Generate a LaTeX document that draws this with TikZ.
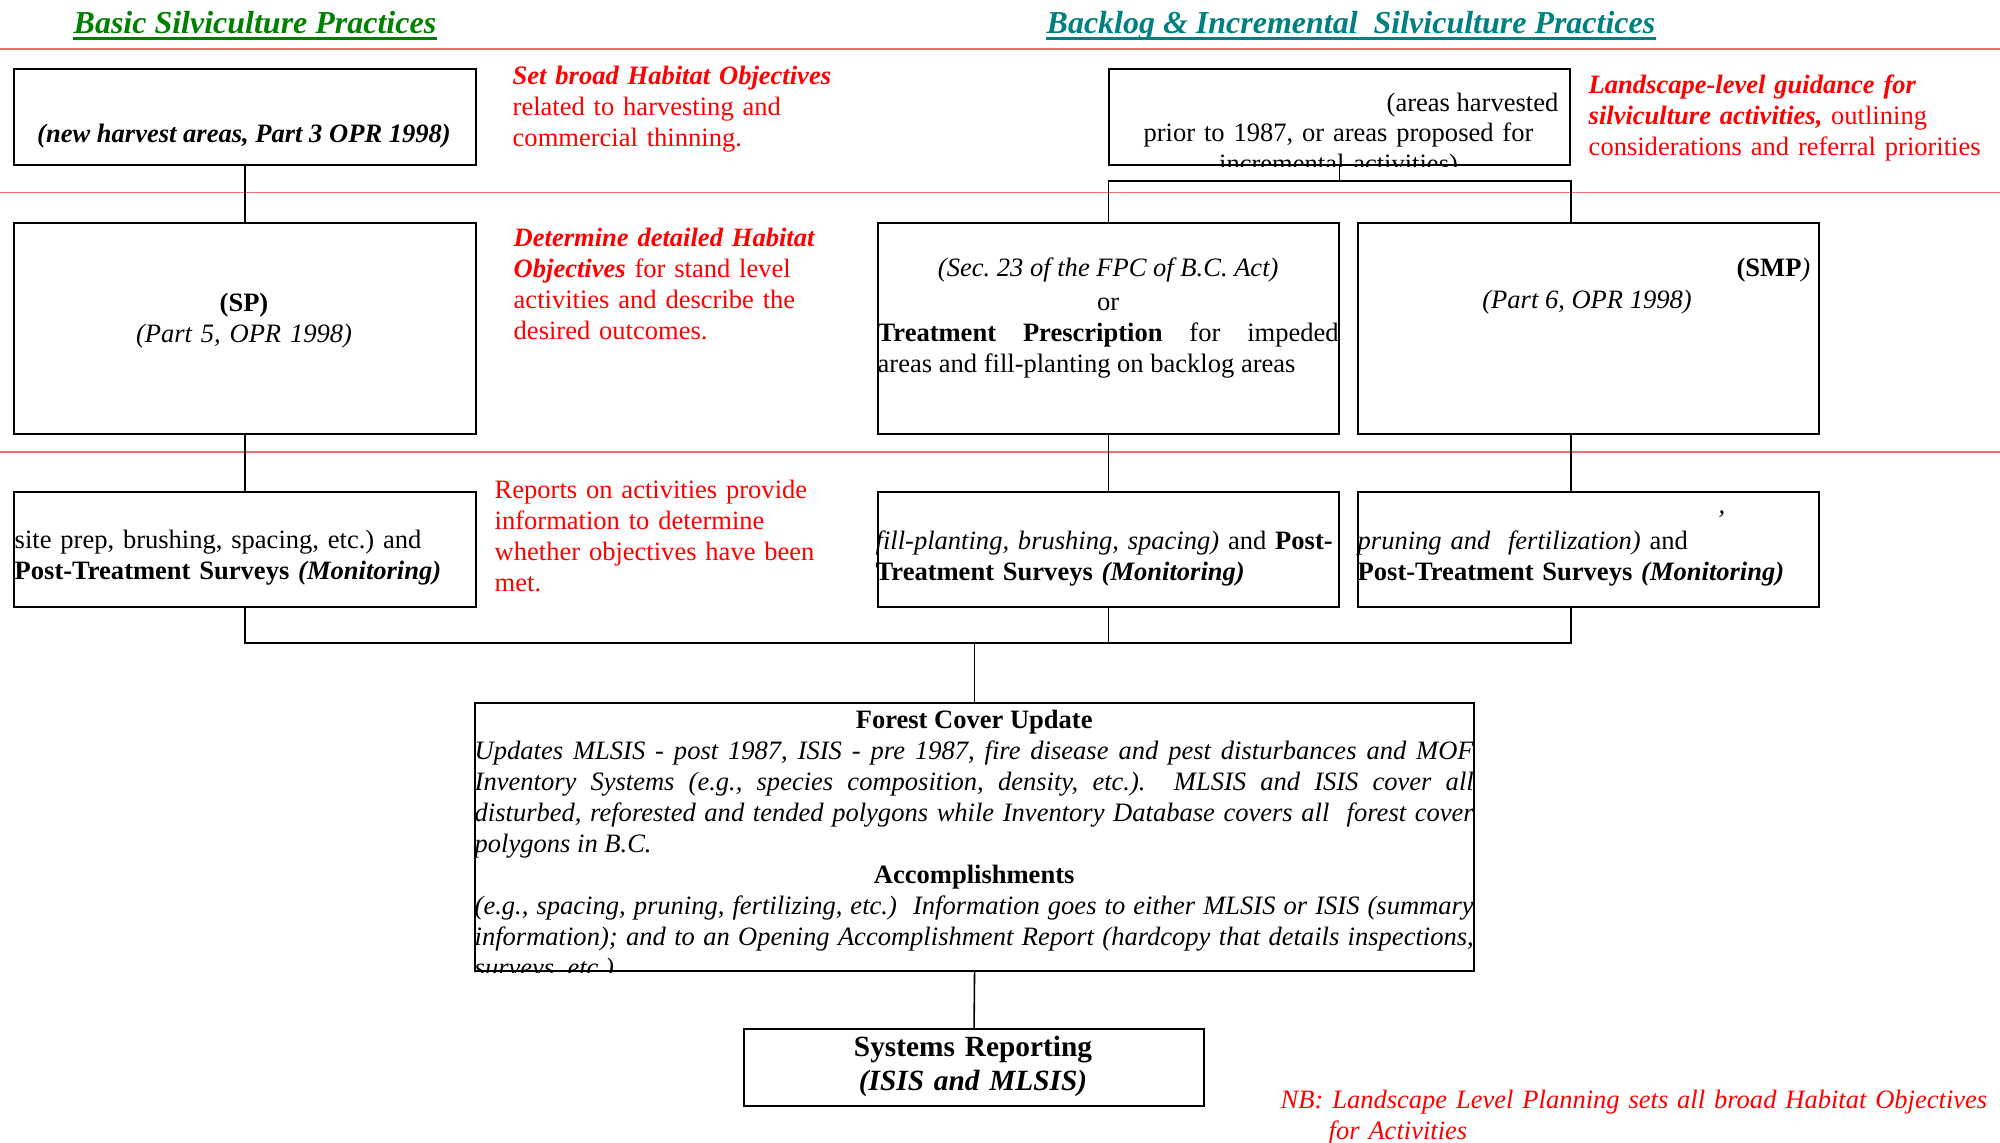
\documentclass[tikz,border=0pt]{standalone}
\usepackage{fontspec}
\setmainfont{Liberation Serif}
\usetikzlibrary{calc}
\definecolor{basicgreen}{RGB}{0,128,0}
\definecolor{backteal}{RGB}{0,128,128}
\definecolor{notered}{RGB}{255,0,0}
\definecolor{bandred}{RGB}{240,110,110}
\frenchspacing

\begin{document}
\begin{tikzpicture}[
	box/.style = {draw, line width=0.6pt, inner sep=0pt, anchor=north west},
	link/.style = {draw, line width=0.45pt},
	txt/.style = {inner sep=0pt, font=\fontsize{7.55}{8.85}\selectfont},
	note/.style = {txt, text=notered, align=left, anchor=base west},
	ttl/.style = {inner sep=0pt, anchor=base west, font=\fontsize{9.1}{10.5}\selectfont\bfseries\itshape},
	band/.style = {draw=bandred, line width=0.45pt}]
	\useasboundingbox (0,0) rectangle (20,-11.42);
	\node[ttl, text=basicgreen] (ttlA) at (0.73,-0.335) {Basic Silviculture Practices};
	\node[ttl, text=backteal] (ttlB) at (10.46,-0.335) {Backlog \& Incremental\ \ Silviculture Practices};
	\draw[basicgreen, line width=0.9pt] ([yshift=-0.05cm]ttlA.base west) -- ([yshift=-0.05cm]ttlA.base east);
	\draw[backteal, line width=0.9pt] ([yshift=-0.05cm]ttlB.base west) -- ([yshift=-0.05cm]ttlB.base east);
	\draw[band] (0,-0.49) -- (20,-0.49);
	\draw[band] (0,-1.925) -- (20,-1.925);
	\draw[band] (0,-4.52) -- (20,-4.52);

	\node[box, minimum width=4.62cm, minimum height=0.96cm] (harv) at (0.13,-0.68) {};
	\node[box, minimum width=4.61cm, minimum height=0.96cm] (backlog) at (11.08,-0.68) {};
	\node[box, minimum width=4.62cm, minimum height=2.11cm] (sp) at (0.13,-2.22) {};
	\node[box, minimum width=4.61cm, minimum height=2.11cm] (tp) at (8.77,-2.22) {};
	\node[box, minimum width=4.61cm, minimum height=2.11cm] (smp) at (13.57,-2.22) {};
	\node[box, minimum width=4.62cm, minimum height=1.15cm] (prep) at (0.13,-4.91) {};
	\node[box, minimum width=4.61cm, minimum height=1.15cm] (tpwork) at (8.77,-4.91) {};
	\node[box, minimum width=4.61cm, minimum height=1.15cm] (smpwork) at (13.57,-4.91) {};
	\node[box, minimum width=9.99cm, minimum height=2.68cm] (fc) at (4.74,-7.02) {};
	\node[box, minimum width=4.60cm, minimum height=0.77cm] (report) at (7.43,-10.28) {};

	\node[txt, anchor=base] (harvtxt) at (2.44,-1.42) {\textbf{\textit{(new harvest areas, Part 3 OPR 1998)}}};
	\node[txt, anchor=base east] (backtop) at (15.59,-1.11) {(areas harvested};
	\begin{scope}
		\clip (backlog.south west) rectangle (backlog.north east);
		\node[txt, text width=4.61cm, align=center, anchor=base] (backtxt) at (13.385,-1.415) {prior to 1987, or areas proposed for\\ incremental activities)};
	\end{scope}
	\node[txt, text width=4.5cm, align=center, anchor=base] (sptxt) at (2.44,-3.11) {\textbf{(SP)}\\ \textit{(Part 5, OPR 1998)}};
	\node[txt, text width=4.61cm, align=justify, anchor=base west] (tptxt) at (8.77,-2.76) {{\centering\textit{(Sec. 23 of the FPC of B.C. Act)}\par\vspace{1pt}or\par}\textbf{Treatment Prescription} for impeded\linebreak areas and fill-planting on backlog areas};
	\node[txt, anchor=base east] (smptop) at (18.11,-2.76) {\textbf{(SMP}\textit{)}};
	\node[txt, anchor=base] (smptxt) at (15.87,-3.08) {\textit{(Part 6, OPR 1998)}};
	\node[txt, text width=4.6cm, align=left, anchor=base west] (preptxt) at (0.14,-5.48) {site prep, brushing, spacing, etc.) and\\ \textbf{Post-Treatment Surveys \textit{(Monitoring)}}};
	\node[txt, text width=4.6cm, align=left, anchor=base west] (tpworktxt) at (8.75,-5.49) {\textit{fill-planting, brushing, spacing)} and \textbf{Post-}\\ \textbf{Treatment Surveys \textit{(Monitoring)}}};
	\node[txt, anchor=base] (smpcomma) at (17.22,-5.13) {\textit{,}};
	\node[txt, text width=4.6cm, align=left, anchor=base west] (smpworktxt) at (13.57,-5.49) {\textit{pruning and\ \ fertilization)} and\\ \textbf{Post-Treatment Surveys \textit{(Monitoring)}}};
	\begin{scope}
		\clip (fc.south west) rectangle (fc.north east);
		\node[txt, text width=9.99cm, align=justify, anchor=base west] (fctxt) at (4.74,-7.28) {{\centering\textbf{Forest Cover Update}\par}\textit{Updates MLSIS - post 1987, ISIS - pre 1987, fire disease and pest disturbances and MOF\linebreak Inventory Systems (e.g., species composition, density, etc.).\ \ MLSIS and ISIS cover all\linebreak disturbed, reforested and tended polygons while Inventory Database covers all\ \ forest cover\linebreak polygons in B.C.}\par{\centering\textbf{Accomplishments}\par}\textit{(e.g., spacing, pruning, fertilizing, etc.)\ \ Information goes to either MLSIS or ISIS (summary\linebreak information); and to an Opening Accomplishment Report (hardcopy that details inspections,\linebreak surveys, etc.)}};
	\end{scope}
	\node[txt, text width=4.6cm, align=center, anchor=base, font=\fontsize{8.35}{9.7}\selectfont] (reporttxt) at (9.73,-10.565) {\textbf{Systems Reporting}\\ \textbf{\textit{(ISIS and MLSIS)}}};

	\node[note, text width=4.5cm] (broad) at (5.12,-0.845) {\textbf{\textit{Set broad Habitat Objectives}}\\ related to harvesting and\\ commercial thinning.};
	\node[note, text width=4.2cm] (landscape) at (15.88,-0.93) {\textbf{\textit{Landscape-level guidance for}}\\ \textbf{\textit{silviculture activities,}} outlining\\ considerations and referral priorities};
	\node[note, text width=4.2cm] (detailed) at (5.13,-2.465) {\textbf{\textit{Determine detailed Habitat}}\\ \textbf{\textit{Objectives}} for stand level\\ activities and describe the\\ desired outcomes.};
	\node[note, text width=4.2cm] (reports) at (4.94,-4.98) {Reports on activities provide\\ information to determine\\ whether objectives have been\\ met.};
	\node[note, text width=7.2cm] (nb) at (12.80,-11.08) {\textit{NB: Landscape Level Planning sets all broad Habitat Objectives}\\ \hspace*{0.48cm}\textit{for Activities}};

	\draw[link] (harv.south) -- (sp.north);
	\draw[link] (backlog.south) -- ++(0,-0.15) coordinate (busB);
	\draw[link] (tp.north) |- (busB) -| (backlog.south east |- smp.north);
	\draw[link] (sp.south) -- (prep.north);
	\draw[link] (tp.south) -- (tpwork.north);
	\draw[link] (backlog.south east |- smp.south) -- (backlog.south east |- smpwork.north);
	\coordinate (busC) at ($(fc.north)+(0,0.59)$);
	\draw[link] (prep.south) |- (busC) -| (backlog.south east |- smpwork.south);
	\draw[link] (tpwork.south) -- (tpwork.south |- busC);
	\draw[link] (busC) -- (fc.north);
	\draw[link] (fc.south) -- (report.north);
\end{tikzpicture}
\end{document}
